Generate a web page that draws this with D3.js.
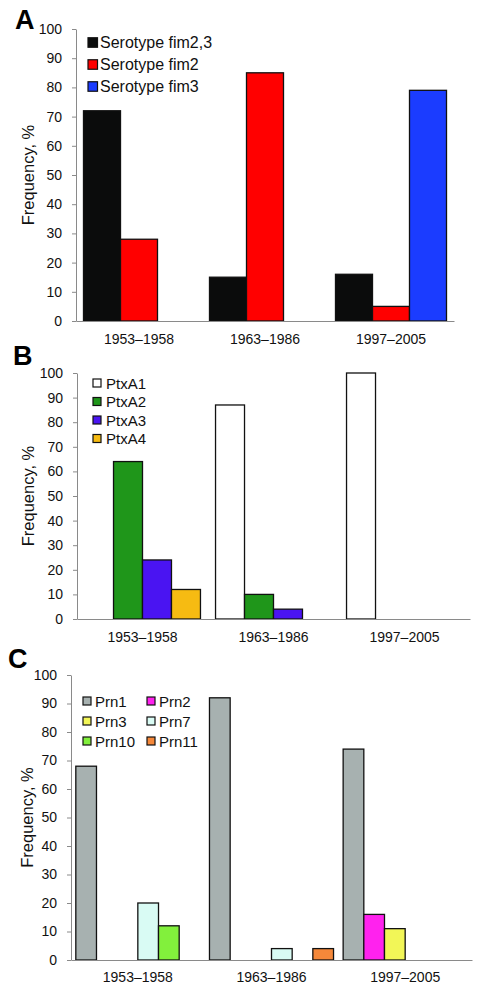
<!DOCTYPE html>
<html><head><meta charset="utf-8">
<script src="https://cdn.jsdelivr.net/npm/d3@7"></script>
<style>
html,body{margin:0;padding:0;background:#fff;}
svg{display:block;font-family:"Liberation Sans",Arial,sans-serif;}
</style></head>
<body>
<svg id="chart" width="480" height="996"></svg>
<script>
// ---- data ----
const periods = ["1953\u20131958", "1963\u20131986", "1997\u20132005"];
const yTicks = [0,10,20,30,40,50,60,70,80,90,100];

const serotypeNames = ["Serotype fim2,3", "Serotype fim2", "Serotype fim3"];
const serotypeFim23 = [72, 15, 16];
const serotypeFim2  = [28, 85, 5];
const serotypeFim3  = [0, 0, 79];
const serotypeColors = ["#0b0c0c", "#ff0000", "#1b3cff"];

const ptxNames = ["PtxA1", "PtxA2", "PtxA3", "PtxA4"];
const ptxA1 = [0, 87, 100];
const ptxA2 = [64, 10, 0];
const ptxA3 = [24, 4, 0];
const ptxA4 = [12, 0, 0];
const ptxColors = ["#ffffff", "#1f961a", "#4a14f2", "#f6bb12"];

const prnNames = ["Prn1", "Prn2", "Prn3", "Prn7", "Prn10", "Prn11"];
const prn1  = [68, 92, 74];
const prn2  = [0, 0, 16];
const prn3  = [0, 0, 11];
const prn7  = [20, 4, 0];
const prn10 = [12, 0, 0];
const prn11 = [0, 4, 0];
const prnColors = ["#a7b1b0", "#ff22ee", "#f2f657", "#d9fbf4", "#82f03c", "#f5883a"];

const svg = d3.select("#chart");

function panel(cfg) {
  const g = svg.append("g");
  const x0 = d3.scaleBand().domain(periods).range([cfg.left, cfg.right])
    .paddingInner(cfg.pad).paddingOuter(cfg.pad / 2);
  const x1 = d3.scaleBand().domain(cfg.names).range([0, x0.bandwidth()]);
  const y = d3.scaleLinear().domain([0, 100]).range([cfg.bottom, cfg.top]);

  // bars
  cfg.names.forEach((name, si) => {
    const vals = cfg.series[si];
    g.append("g").selectAll("rect").data(periods.map((p, i) => ({p, v: vals[i]})).filter(d => d.v > 0))
      .join("rect")
      .attr("x", d => x0(d.p) + x1(name))
      .attr("width", x1.bandwidth())
      .attr("y", d => y(d.v))
      .attr("height", d => y(0) - y(d.v))
      .attr("fill", cfg.colors[si])
      .attr("stroke", "#111")
      .attr("stroke-width", 1.3);
  });

  // y axis
  const ya = g.append("g").attr("transform", `translate(${cfg.left},0)`)
    .call(d3.axisLeft(y).tickValues(yTicks).tickSize(4).tickSizeOuter(0).tickPadding(10));
  ya.select(".domain").attr("stroke", "#8a8a8a");
  ya.selectAll(".tick line").attr("stroke", "#8a8a8a");
  ya.selectAll(".tick text").attr("font-size", 14).attr("fill", "#111")
    .attr("font-family", "Liberation Sans, Arial, sans-serif");

  // x baseline
  const xa = g.append("g").attr("transform", `translate(0,${cfg.bottom})`)
    .call(d3.axisBottom(x0).tickSize(0).tickSizeOuter(0).tickPadding(cfg.labelPad));
  xa.select(".domain").attr("stroke", "#8a8a8a");
  xa.selectAll(".tick text").attr("font-size", 14).attr("fill", "#111")
    .attr("font-family", "Liberation Sans, Arial, sans-serif");

  // y title
  g.append("text")
    .attr("transform", `translate(${cfg.titleX},${(cfg.top + cfg.bottom) / 2}) rotate(-90)`)
    .attr("text-anchor", "middle").attr("dominant-baseline", "central")
    .attr("font-size", 16.5).attr("fill", "#111").text("Frequency, %");

  // panel letter
  g.append("text").attr("x", cfg.letterX).attr("y", cfg.letterY)
    .attr("font-size", 27).attr("font-weight", "bold").attr("fill", "#000")
    .text(cfg.letter);

  // legend
  const lg = g.append("g");
  cfg.names.forEach((name, i) => {
    const col = Math.floor(i % cfg.legCols);
    const row = Math.floor(i / cfg.legCols);
    const lx = cfg.legX + col * cfg.legColW;
    const ly = cfg.legY + row * cfg.legRowH;
    lg.append("rect").attr("x", lx).attr("y", ly - cfg.legSq / 2)
      .attr("width", cfg.legSq).attr("height", cfg.legSq)
      .attr("fill", cfg.colors[i]).attr("stroke", "#111").attr("stroke-width", 1.2);
    lg.append("text").attr("x", lx + cfg.legSq + cfg.legGap).attr("y", ly)
      .attr("dominant-baseline", "central").attr("font-size", cfg.legFont)
      .attr("fill", "#111").text(name);
  });
}

panel({
  letter: "A", letterX: 15, letterY: 29,
  left: 76, right: 454, top: 29, bottom: 321, pad: 0.119, labelPad: 13,
  titleX: 28,
  names: serotypeNames, series: [serotypeFim23, serotypeFim2, serotypeFim3], colors: serotypeColors,
  legX: 88, legY: 42.5, legRowH: 22, legCols: 1, legColW: 0, legSq: 9.5, legGap: 2.5, legFont: 16
});

panel({
  letter: "B", letterX: 13, letterY: 365,
  left: 77, right: 470, top: 373, bottom: 619, pad: 0.115, labelPad: 13,
  titleX: 28,
  names: ptxNames, series: [ptxA1, ptxA2, ptxA3, ptxA4], colors: ptxColors,
  legX: 93, legY: 383, legRowH: 18.5, legCols: 1, legColW: 0, legSq: 8, legGap: 5, legFont: 15
});

panel({
  letter: "C", letterX: 8, letterY: 668,
  left: 71, right: 472, top: 675, bottom: 960, pad: 0.072, labelPad: 12,
  titleX: 27,
  names: prnNames, series: [prn1, prn2, prn3, prn7, prn10, prn11], colors: prnColors,
  legX: 83, legY: 701, legRowH: 20, legCols: 2, legColW: 64, legSq: 8, legGap: 4, legFont: 15
});
</script>
</body></html>
